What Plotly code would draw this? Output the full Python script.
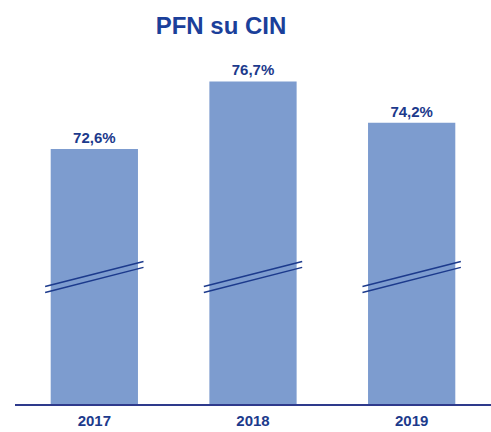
import plotly.graph_objects as go

years = ["2017", "2018", "2019"]
values = [72.6, 76.7, 74.2]
labels = ["72,6%", "76,7%", "74,2%"]
title_text = "PFN su CIN"

BAR = "#7D9CCF"
NAVY = "#1C3A8C"
y_min, y_max = 57.15, 78.0
break_y = 64.85

fig = go.Figure()
fig.add_trace(go.Bar(
    x=years, y=values, marker=dict(color=BAR, line=dict(width=0)),
    text=labels, textposition="outside", cliponaxis=False,
    textfont=dict(family="Liberation Sans, Arial", size=15, color=NAVY),
    texttemplate="<b>%{text}</b>", hoverinfo="skip",
))

# axis-break marks drawn across each bar
for i, y in enumerate(years):
    for off in (0.18, -0.18):
        fig.add_shape(type="line", xref="x", yref="y",
                      x0=i - 0.31, x1=i + 0.31,
                      y0=break_y + off - 0.76, y1=break_y + off + 0.76,
                      line=dict(color=NAVY, width=1.5))

fig.update_layout(
    width=491, height=432,
    margin=dict(l=15, r=0, t=60, b=28),
    plot_bgcolor="white", paper_bgcolor="white",
    bargap=0.45, showlegend=False,
    title=dict(text=f"<b>{title_text}</b>", x=(221 - 15) / 476, xref="paper",
               xanchor="center", y=1 - 26 / 432, yanchor="middle",
               font=dict(family="Liberation Sans, Arial", size=24, color="#1B3F9A")),
    font=dict(family="Liberation Sans, Arial"),
)
fig.update_xaxes(showline=True, linecolor="#2E3A8C", linewidth=2,
                 ticks="", tickfont=dict(size=15, color=NAVY), ticklabelstandoff=2,
                 tickprefix="<b>", ticksuffix="</b>", showgrid=False)
fig.update_yaxes(range=[y_min, y_max], visible=False, showgrid=False)

fig.write_html("out.html")
